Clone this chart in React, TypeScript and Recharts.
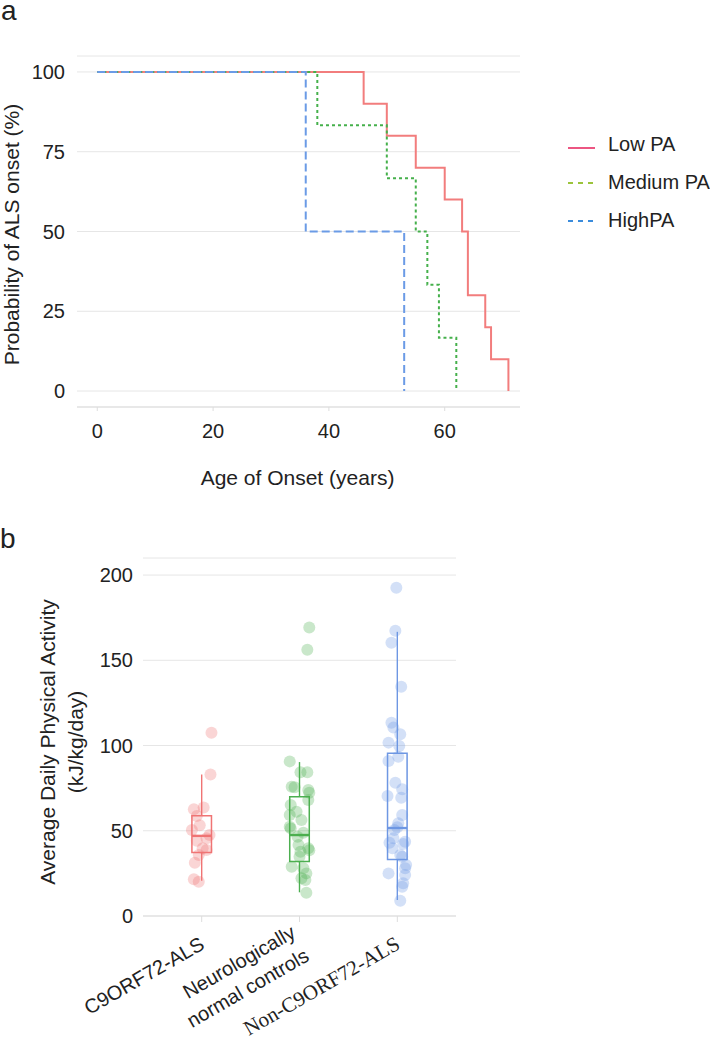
import React from 'react';
import {
  LineChart,
  Line,
  XAxis,
  YAxis,
  CartesianGrid,
  Legend,
  ComposedChart,
  Scatter,
  ReferenceArea,
  ReferenceLine,
} from 'recharts';

const FONT = '"Liberation Sans", Arial, Helvetica, sans-serif';
const SERIF = '"Liberation Serif", "Times New Roman", serif';
const INK = '#222';

// ---- panel a: probability of remaining onset-free by age ----
const lowPA = [
  { age: 0, prob: 100 },
  { age: 46, prob: 90 },
  { age: 50, prob: 80 },
  { age: 55, prob: 70 },
  { age: 60, prob: 60 },
  { age: 63, prob: 50 },
  { age: 64, prob: 30 },
  { age: 67, prob: 20 },
  { age: 68, prob: 10 },
  { age: 71, prob: 0 },
];
const mediumPA = [
  { age: 0, prob: 100 },
  { age: 38, prob: 83.3 },
  { age: 50, prob: 66.7 },
  { age: 55, prob: 50 },
  { age: 57, prob: 33.3 },
  { age: 59, prob: 16.7 },
  { age: 62, prob: 0 },
];
const highPA = [
  { age: 0, prob: 100 },
  { age: 36, prob: 50 },
  { age: 53, prob: 0 },
];
const ageTicks = [0, 20, 40, 60];
const probTicks = [0, 25, 50, 75, 100];
const paNames = ['Low PA', 'Medium PA', 'HighPA'];

// ---- panel b: average daily physical activity per group ----
const groups = ['C9ORF72-ALS', 'Neurologically normal controls', 'Non-C9ORF72-ALS'];
const c9Points = [
  { g: 1.1, v: 107.5 }, { g: 1.09, v: 83 }, { g: 0.92, v: 62.6 }, { g: 1.02, v: 63.7 },
  { g: 0.95, v: 58.7 }, { g: 0.98, v: 53.2 }, { g: 0.9, v: 50.4 }, { g: 1.08, v: 47.5 },
  { g: 1.05, v: 45.6 }, { g: 0.95, v: 44.2 }, { g: 1.01, v: 39.7 }, { g: 1.05, v: 38.7 },
  { g: 0.97, v: 35.8 }, { g: 0.93, v: 31.3 }, { g: 0.92, v: 21.5 }, { g: 0.97, v: 20.1 },
];
const controlPoints = [
  { g: 2.1, v: 169.3 }, { g: 2.08, v: 156.2 }, { g: 1.9, v: 90.7 }, { g: 2.01, v: 84.3 },
  { g: 2.08, v: 84.3 }, { g: 1.92, v: 75.8 }, { g: 1.95, v: 75.5 }, { g: 2.09, v: 73.9 },
  { g: 2.1, v: 72.3 }, { g: 2.09, v: 68 }, { g: 1.91, v: 65.1 }, { g: 1.97, v: 61.2 },
  { g: 1.9, v: 59.2 }, { g: 2.02, v: 56.3 }, { g: 1.9, v: 52.4 }, { g: 1.91, v: 51.4 },
  { g: 2.04, v: 48.9 }, { g: 1.98, v: 46.5 }, { g: 1.99, v: 41.6 }, { g: 2.09, v: 39.7 },
  { g: 2.01, v: 37.7 }, { g: 2.1, v: 38.6 }, { g: 2.0, v: 34.8 }, { g: 1.92, v: 28.9 },
  { g: 2.04, v: 28 }, { g: 2.07, v: 25 }, { g: 2.02, v: 22.1 }, { g: 2.06, v: 21.1 },
  { g: 2.07, v: 13.7 },
];
const nonC9Points = [
  { g: 2.99, v: 192.6 }, { g: 2.98, v: 167.3 }, { g: 2.94, v: 160.3 }, { g: 3.04, v: 134.5 },
  { g: 2.94, v: 113.4 }, { g: 2.96, v: 110.5 }, { g: 3.03, v: 106.6 }, { g: 2.91, v: 101.7 },
  { g: 3.02, v: 99.7 }, { g: 3.01, v: 93.4 }, { g: 2.91, v: 90.9 }, { g: 2.98, v: 78.2 },
  { g: 3.05, v: 74.3 }, { g: 2.9, v: 70.4 }, { g: 3.04, v: 69.4 }, { g: 3.05, v: 59.2 },
  { g: 3.01, v: 54.4 }, { g: 3.0, v: 52 }, { g: 2.97, v: 50.4 }, { g: 2.96, v: 45.6 },
  { g: 2.92, v: 43 }, { g: 3.08, v: 43.6 }, { g: 3.06, v: 42.2 }, { g: 2.95, v: 39.7 },
  { g: 3.03, v: 35.8 }, { g: 3.05, v: 34.8 }, { g: 3.09, v: 29.9 }, { g: 3.08, v: 28 },
  { g: 2.91, v: 25 }, { g: 3.08, v: 24 }, { g: 3.06, v: 19.2 }, { g: 3.05, v: 17.2 },
  { g: 3.03, v: 9 },
];
const q1 = [37.3, 32, 33.2];
const medians = [47, 47.5, 51.6];
const q3 = [58.8, 70, 95.4];
const whiskerLow = [20.7, 13.9, 9.4];
const whiskerHigh = [83, 90.3, 166.7];
const activityTicks = [0, 50, 100, 150, 200];

const lineColors = ['#f27d7d', '#45b04b', '#6b9be6'];
const legendColors = ['#ec5682', '#9cc43c', '#3b8cdc'];
const groupColors = ['#f07474', '#4caf50', '#6e97e3'];
const BOX_HALF = 0.1;

function PALegend() {
  return (
    <svg width={150} height={120} style={{ display: 'block' }}>
      {paNames.map((name, i) => {
        const y = 20 + i * 38;
        return (
          <g key={name}>
            <line
              x1={8}
              x2={35}
              y1={y + (i === 0 ? 4 : 1)}
              y2={y + (i === 0 ? 4 : 1)}
              stroke={legendColors[i]}
              strokeWidth={2}
              strokeDasharray={i === 0 ? undefined : '5 5'}
            />
            <text x={48} y={y} dominantBaseline="central" fontSize={20} fill={INK} fontFamily={FONT}>
              {name}
            </text>
          </g>
        );
      })}
    </svg>
  );
}

function OnsetChart() {
  return (
    <LineChart
      width={714}
      height={500}
      margin={{ top: 56, right: 194, bottom: 0, left: 0 }}
      style={{ fontFamily: FONT }}
    >
      <CartesianGrid vertical={false} stroke="#e6e6e6" />
      <XAxis
        type="number"
        dataKey="age"
        domain={[-3.5, 73]}
        ticks={ageTicks}
        height={93}
        stroke="#ddd"
        tickSize={4}
        tickMargin={13}
        tick={{ fill: INK, fontSize: 20 }}
        label={{
          content: ({ viewBox }: any) => (
            <text
              x={viewBox.x + viewBox.width / 2 - 1}
              y={viewBox.y + 70}
              textAnchor="middle"
              dominantBaseline="central"
              fontSize={21}
              fill={INK}
            >
              Age of Onset (years)
            </text>
          ),
        }}
      />
      <YAxis
        type="number"
        domain={[-5, 105]}
        ticks={probTicks}
        width={77}
        axisLine={false}
        tickLine={false}
        tickSize={0}
        tickMargin={12}
        tick={{ fill: INK, fontSize: 20 }}
        label={{
          content: ({ viewBox }: any) => {
            const cx = 11;
            const cy = viewBox.y + viewBox.height / 2 + 3;
            return (
              <text
                x={cx}
                y={cy}
                transform={`rotate(-90, ${cx}, ${cy})`}
                textAnchor="middle"
                dominantBaseline="central"
                fontSize={21}
                fill={INK}
              >
                Probability of ALS onset (%)
              </text>
            );
          },
        }}
      />
      <Line
        data={lowPA}
        dataKey="prob"
        type="stepAfter"
        stroke={lineColors[0]}
        strokeWidth={2}
        dot={false}
        activeDot={false}
        isAnimationActive={false}
      />
      <Line
        data={mediumPA}
        dataKey="prob"
        type="stepAfter"
        stroke={lineColors[1]}
        strokeWidth={2}
        strokeDasharray="3 3"
        dot={false}
        activeDot={false}
        isAnimationActive={false}
      />
      <Line
        data={highPA}
        dataKey="prob"
        type="stepAfter"
        stroke={lineColors[2]}
        strokeWidth={2}
        strokeDasharray="8 4"
        dot={false}
        activeDot={false}
        isAnimationActive={false}
      />
      <Legend
        layout="vertical"
        align="center"
        verticalAlign="middle"
        wrapperStyle={{ left: 560, top: 124, width: 150 }}
        content={() => <PALegend />}
      />
    </LineChart>
  );
}

function GroupTick({ x, y, payload }: any) {
  const i = Math.round(payload.value) - 1;
  const label = groups[i];
  if (label === undefined) return null;
  if (i === 1) {
    return (
      <g transform={`translate(${x + 4},${y + 26}) rotate(-30)`}>
        <text textAnchor="end" fontSize={20} fill={INK} fontFamily={FONT}>
          <tspan x={0} dy="-0.67em">Neurologically</tspan>
          <tspan x={0} dy="1.35em">normal controls</tspan>
        </text>
      </g>
    );
  }
  return (
    <g transform={`translate(${x + 4},${y + 26}) rotate(-30)`}>
      <text textAnchor="end" fontSize={i === 2 ? 21 : 20} fill={INK} fontFamily={i === 2 ? SERIF : FONT}>
        {label}
      </text>
    </g>
  );
}

const dotShape = (color: string) => (props: any) =>
  <circle cx={props.cx} cy={props.cy} r={6} fill={color} fillOpacity={0.3} />;

function ActivityChart() {
  const pointSets = [c9Points, controlPoints, nonC9Points];
  return (
    <ComposedChart
      width={714}
      height={542}
      margin={{ top: 58, right: 258, bottom: 0, left: 0 }}
      style={{ fontFamily: FONT }}
    >
      <CartesianGrid vertical={false} stroke="#e6e6e6" />
      <XAxis
        type="number"
        dataKey="g"
        domain={[0.4, 3.6]}
        ticks={[1, 2, 3]}
        interval={0}
        height={126}
        stroke="#ddd"
        tickSize={6}
        tickMargin={0}
        tick={<GroupTick />}
      />
      <YAxis
        type="number"
        dataKey="v"
        domain={[0, 210]}
        ticks={activityTicks}
        width={143}
        axisLine={false}
        tickLine={false}
        tickSize={0}
        tickMargin={10}
        tick={{ fill: INK, fontSize: 20 }}
        label={{
          content: ({ viewBox }: any) => {
            const cy = viewBox.y + viewBox.height / 2 + 5;
            return (
              <g>
                <text
                  x={47}
                  y={cy}
                  transform={`rotate(-90, 47, ${cy})`}
                  textAnchor="middle"
                  dominantBaseline="central"
                  fontSize={21}
                  fill={INK}
                >
                  Average Daily Physical Activity
                </text>
                <text
                  x={75}
                  y={cy}
                  transform={`rotate(-90, 75, ${cy})`}
                  textAnchor="middle"
                  dominantBaseline="central"
                  fontSize={21}
                  fill={INK}
                >
                  (kJ/kg/day)
                </text>
              </g>
            );
          },
        }}
      />
      {pointSets.map((pts, i) => (
        <Scatter
          key={`pts-${i}`}
          data={pts}
          dataKey="v"
          shape={dotShape(groupColors[i])}
          isAnimationActive={false}
        />
      ))}
      {groups.map((_, i) => (
        <ReferenceArea
          key={`box-${i}`}
          x1={i + 1 - BOX_HALF}
          x2={i + 1 + BOX_HALF}
          y1={q1[i]}
          y2={q3[i]}
          fill="#fff"
          fillOpacity={0}
          stroke={groupColors[i]}
          strokeWidth={1.5}
          strokeOpacity={1}
        />
      ))}
      {groups.map((_, i) => (
        <ReferenceLine
          key={`wu-${i}`}
          segment={[{ x: i + 1, y: q3[i] }, { x: i + 1, y: whiskerHigh[i] }]}
          stroke={groupColors[i]}
          strokeWidth={1.4}
        />
      ))}
      {groups.map((_, i) => (
        <ReferenceLine
          key={`wl-${i}`}
          segment={[{ x: i + 1, y: whiskerLow[i] }, { x: i + 1, y: q1[i] }]}
          stroke={groupColors[i]}
          strokeWidth={1.4}
        />
      ))}
      {groups.map((_, i) => (
        <ReferenceLine
          key={`med-${i}`}
          segment={[{ x: i + 1 - BOX_HALF, y: medians[i] }, { x: i + 1 + BOX_HALF, y: medians[i] }]}
          stroke={groupColors[i]}
          strokeWidth={2.4}
        />
      ))}
    </ComposedChart>
  );
}

export default function App() {
  return (
    <div
      style={{
        position: 'absolute',
        left: 0,
        top: 0,
        width: 714,
        height: 1042,
        background: '#fff',
        fontFamily: FONT,
        overflow: 'hidden',
      }}
    >
      <div style={{ position: 'absolute', left: 0, top: 0 }}>
        <OnsetChart />
      </div>
      <div style={{ position: 'absolute', left: 0, top: 500 }}>
        <ActivityChart />
      </div>
      <svg
        width={40}
        height={1042}
        style={{ position: 'absolute', left: 0, top: 0, pointerEvents: 'none' }}
      >
        <text x={1} y={20} fontSize={28} fill={INK} fontFamily={FONT}>
          a
        </text>
        <text x={0} y={548} fontSize={28} fill={INK} fontFamily={FONT}>
          b
        </text>
      </svg>
    </div>
  );
}
